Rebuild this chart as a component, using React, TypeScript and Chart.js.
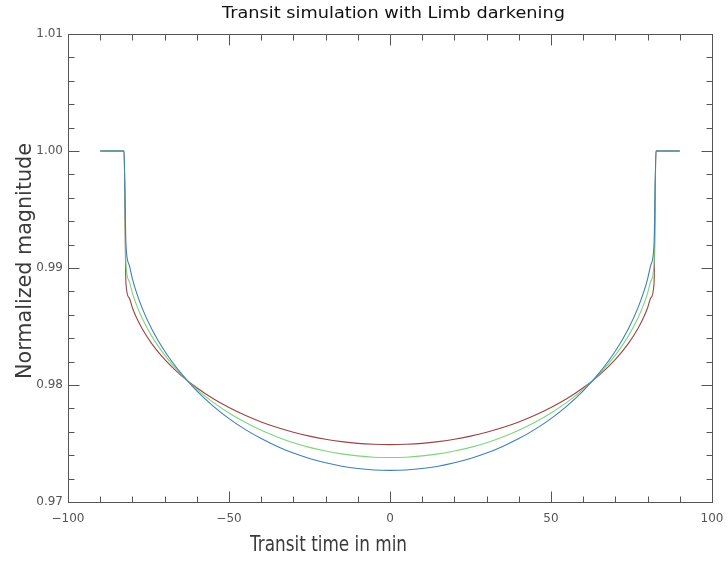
import React, { useEffect, useRef } from 'react';
import { Chart, registerables } from 'chart.js';

Chart.register(...registerables);

// Transit time samples (minutes from mid-transit)
const timeMin = [
  -90, -82.6, -82, -81, -80, -79, -77, -74, -70, -65, -60, -55, -50, -45, -40, -35, -30, -25, -20, -15, -10, -5,
  0,
  5, 10, 15, 20, 25, 30, 35, 40, 45, 50, 55, 60, 65, 70, 74, 77, 79, 80, 81, 82, 82.6, 90,
];

// Normalized flux for three limb-darkening cases
const fluxRed = [
  1.0, 1.0, 0.98868, 0.98745, 0.9866, 0.98592, 0.98483, 0.98354, 0.98219, 0.98085, 0.97976, 0.97884, 0.97807,
  0.97741, 0.97684, 0.97636, 0.97596, 0.97563, 0.97536, 0.97516, 0.97501, 0.97493,
  0.9749,
  0.97493, 0.97501, 0.97516, 0.97536, 0.97563, 0.97596, 0.97636, 0.97684, 0.97741, 0.97807, 0.97884, 0.97976,
  0.98085, 0.98219, 0.98354, 0.98483, 0.98592, 0.9866, 0.98745, 0.98868, 1.0, 1.0,
];
const fluxGreen = [
  1.0, 1.0, 0.99036, 0.98887, 0.98786, 0.98704, 0.98572, 0.98418, 0.98256, 0.98095, 0.97963, 0.97854, 0.97761,
  0.97681, 0.97613, 0.97556, 0.97507, 0.97467, 0.97436, 0.97411, 0.97394, 0.97383,
  0.9738,
  0.97383, 0.97394, 0.97411, 0.97436, 0.97467, 0.97507, 0.97556, 0.97613, 0.97681, 0.97761, 0.97854, 0.97963,
  0.98095, 0.98256, 0.98418, 0.98572, 0.98704, 0.98786, 0.98887, 0.99036, 1.0, 1.0,
];
const fluxBlue = [
  1.0, 1.0, 0.99199, 0.99026, 0.98908, 0.98813, 0.98659, 0.98479, 0.9829, 0.98103, 0.9795, 0.97822, 0.97713,
  0.97621, 0.97542, 0.97475, 0.97418, 0.97372, 0.97335, 0.97306, 0.97286, 0.97274,
  0.9727,
  0.97274, 0.97286, 0.97306, 0.97335, 0.97372, 0.97418, 0.97475, 0.97542, 0.97621, 0.97713, 0.97822, 0.9795,
  0.98103, 0.9829, 0.98479, 0.98659, 0.98813, 0.98908, 0.99026, 0.99199, 1.0, 1.0,
];

// Axis ticks
const xMajorTicks = [-100, -50, 0, 50, 100];
const xTickLabels = ['\u2212100', '\u221250', '0', '50', '100'];
const xMinorTicks = [-90, -80, -70, -60, -40, -30, -20, -10, 10, 20, 30, 40, 60, 70, 80, 90];
const yMajorTicks = [0.97, 0.98, 0.99, 1.0, 1.01];
const yTickLabels = ['0.97', '0.98', '0.99', '1.00', '1.01'];
const yMinorTicks = [
  0.972, 0.974, 0.976, 0.978, 0.982, 0.984, 0.986, 0.988, 0.992, 0.994, 0.996, 0.998, 1.002, 1.004, 1.006, 1.008,
];

const titleText = 'Transit simulation with Limb darkening';
const xTitleText = 'Transit time in min';
const yTitleText = 'Normalized magnitude';

const FRAME = '#555555';

function fitText(ctx: CanvasRenderingContext2D, text: string, x: number, y: number, width: number) {
  const w = ctx.measureText(text).width;
  ctx.save();
  ctx.translate(x, y);
  ctx.scale(width / w, 1);
  ctx.fillText(text, 0, 0);
  ctx.restore();
}

const framePlugin = {
  id: 'idlFrame',
  afterDraw(chart: any) {
    const { ctx, chartArea } = chart;
    const { left, right, top, bottom } = chartArea;
    const xs = chart.scales.x;
    const ys = chart.scales.y;
    ctx.save();
    ctx.strokeStyle = FRAME;
    ctx.lineWidth = 1;
    ctx.strokeRect(Math.round(left) + 0.5, Math.round(top) + 0.5, Math.round(right - left), Math.round(bottom - top));

    const tick = (x1: number, y1: number, x2: number, y2: number) => {
      ctx.beginPath();
      ctx.moveTo(x1, y1);
      ctx.lineTo(x2, y2);
      ctx.stroke();
    };
    const major = 11;
    const minor = 6;
    const b = Math.round(bottom) + 0.5;
    const t = Math.round(top) + 0.5;
    const l = Math.round(left) + 0.5;
    const r = Math.round(right) + 0.5;
    for (const v of xMajorTicks) {
      const px = Math.round(xs.getPixelForValue(v)) + 0.5;
      tick(px, b, px, b - major);
      tick(px, t, px, t + major);
    }
    for (const v of xMinorTicks) {
      const px = Math.round(xs.getPixelForValue(v)) + 0.5;
      tick(px, b, px, b - minor);
      tick(px, t, px, t + minor);
    }
    for (const v of yMajorTicks) {
      const py = Math.round(ys.getPixelForValue(v)) + 0.5;
      tick(l, py, l + major, py);
      tick(r, py, r - major, py);
    }
    for (const v of yMinorTicks) {
      const py = Math.round(ys.getPixelForValue(v)) + 0.5;
      tick(l, py, l + minor, py);
      tick(r, py, r - minor, py);
    }

    // Titles
    ctx.fillStyle = '#111111';
    ctx.textBaseline = 'middle';
    ctx.textAlign = 'left';
    ctx.font = '15px "DejaVu Sans"';
    fitText(ctx, titleText, 222, 14, 343);

    ctx.fillStyle = '#3a3a3a';
    ctx.font = '22px "DejaVu Sans"';
    fitText(ctx, xTitleText, 250, 545, 157);

    ctx.save();
    ctx.translate(25, 379);
    ctx.rotate(-Math.PI / 2);
    ctx.font = '22px "DejaVu Sans"';
    fitText(ctx, yTitleText, 0, 0, 236);
    ctx.restore();

    ctx.restore();
  },
};

export default function App() {
  const canvasRef = useRef<HTMLCanvasElement | null>(null);

  useEffect(() => {
    document.body.style.margin = '0';
    const canvas = canvasRef.current;
    if (!canvas) return;
    const line = (label: string, data: number[], color: string) => ({
      label,
      data: timeMin.map((t, i) => ({ x: t, y: data[i] })),
      borderColor: color,
      backgroundColor: color,
      borderWidth: 1.1,
      pointRadius: 0,
      fill: false,
      cubicInterpolationMode: 'monotone' as const,
    });
    const chart = new Chart(canvas, {
      type: 'line',
      data: {
        datasets: [
          line('blue', fluxBlue, '#3f7fb6'),
          line('green', fluxGreen, '#7fd47f'),
          line('red', fluxRed, '#9a4444'),
        ],
      },
      options: {
        animation: false,
        responsive: false,
        devicePixelRatio: 1,
        layout: { padding: { top: 34, right: 16, bottom: 0, left: 0 } },
        plugins: {
          legend: { display: false },
          title: { display: false },
          tooltip: { enabled: false },
        },
        scales: {
          x: {
            type: 'linear',
            min: -100,
            max: 100,
            grid: { display: false, drawTicks: false },
            border: { display: false },
            afterBuildTicks: (s: any) => {
              s.ticks = xMajorTicks.map((v) => ({ value: v }));
            },
            afterFit: (s: any) => {
              s.height = 59;
              s.paddingLeft = 0;
              s.paddingRight = 0;
            },
            ticks: {
              autoSkip: false,
              maxRotation: 0,
              padding: 10,
              color: '#555555',
              font: { family: 'DejaVu Sans', size: 12 },
              callback: (_v: any, i: number) => xTickLabels[i],
            },
          },
          y: {
            type: 'linear',
            min: 0.97,
            max: 1.01,
            grid: { display: false, drawTicks: false },
            border: { display: false },
            afterBuildTicks: (s: any) => {
              s.ticks = yMajorTicks.map((v) => ({ value: v }));
            },
            afterFit: (s: any) => {
              s.width = 68;
              s.paddingTop = 0;
              s.paddingBottom = 0;
            },
            ticks: {
              autoSkip: false,
              padding: 5,
              color: '#555555',
              font: { family: 'DejaVu Sans', size: 12 },
              callback: (_v: any, i: number) => yTickLabels[i],
            },
          },
        },
      },
      plugins: [framePlugin],
    });
    return () => chart.destroy();
  }, []);

  return (
    <div style={{ position: 'absolute', left: 0, top: 0, width: 728, height: 561, background: '#ffffff' }}>
      <canvas ref={canvasRef} width={728} height={561} />
    </div>
  );
}
